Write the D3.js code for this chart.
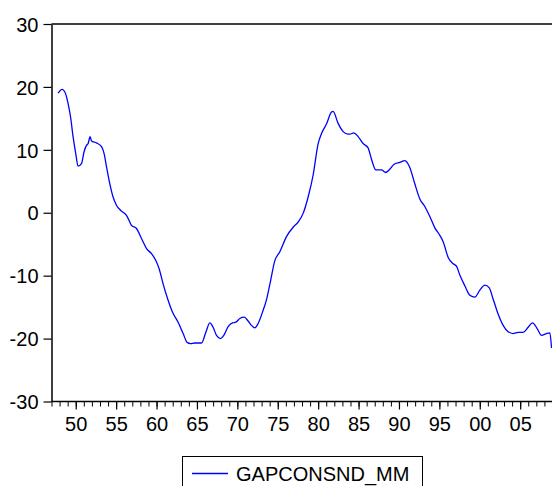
<!DOCTYPE html>
<html>
<head>
<meta charset="utf-8">
<script src="https://cdn.jsdelivr.net/npm/d3@7"></script>
<style>
  body { margin: 0; background: #fff; }
  svg { display: block; }
  text { font-family: "Liberation Sans", Arial, sans-serif; }
</style>
</head>
<body>
<script>
// data (decimal year, gap value)
var years = [1947.82, 1948.31, 1948.65, 1949.05, 1949.35, 1949.67, 1950.0, 1950.29, 1950.71, 1951.03,
  1951.33, 1951.53, 1951.78, 1951.95, 1952.57, 1953.19, 1953.51, 1953.81, 1954.22, 1954.62,
  1955.04, 1955.54, 1956.28, 1956.90, 1957.52, 1958.14, 1958.76, 1959.38, 1959.91, 1960.32,
  1960.81, 1961.43, 1961.98, 1962.67, 1963.29, 1963.78, 1964.20, 1964.73, 1965.56, 1966.10,
  1966.59, 1967.0, 1967.42, 1967.92, 1968.32, 1968.86, 1969.40, 1969.81, 1970.31, 1970.84,
  1971.33, 1971.75, 1972.16, 1972.57, 1973.11, 1973.61, 1974.02, 1974.64, 1975.26, 1976.08,
  1976.90, 1977.52, 1978.14, 1978.76, 1979.38, 1980.0, 1980.42, 1981.03, 1981.65, 1981.85,
  1982.47, 1983.09, 1983.71, 1983.92, 1984.41, 1984.95, 1985.56, 1986.18, 1986.60, 1987.14,
  1987.84, 1988.37, 1988.78, 1989.40, 1990.11, 1990.73, 1991.34, 1991.96, 1992.58, 1993.20,
  1993.82, 1994.44, 1995.06, 1995.47, 1996.09, 1996.71, 1997.12, 1997.53, 1998.15, 1998.77,
  1999.39, 2000.01, 2000.63, 2001.16, 2001.65, 2002.27, 2002.89, 2003.51, 2004.13, 2004.75,
  2005.37, 2005.99, 2006.53, 2007.10, 2007.64, 2008.26, 2008.67, 2008.88];

var gapValues = [19.0, 19.6, 19.2, 17.4, 15.3, 12.1, 9.4, 7.4, 7.8, 9.7,
  10.7, 11.0, 12.1, 11.4, 11.1, 10.5, 9.4, 7.3, 4.6, 2.5,
  1.2, 0.4, -0.4, -2.0, -2.5, -4.1, -5.7, -6.5, -7.6, -8.9,
  -11.3, -13.9, -15.8, -17.4, -19.2, -20.6, -20.8, -20.7, -20.7, -19.0,
  -17.5, -18.2, -19.5, -20.0, -19.5, -18.1, -17.5, -17.4, -16.8, -16.6,
  -17.2, -17.9, -18.3, -17.6, -15.8, -13.8, -11.4, -7.6, -6.2, -3.8,
  -2.3, -1.5, -0.1, 2.5, 6.0, 11.0, 12.6, 14.1, 16.0, 16.1,
  14.2, 12.9, 12.5, 12.5, 12.7, 12.1, 11.0, 10.3, 8.5, 6.8,
  6.8, 6.4, 6.8, 7.7, 8.0, 8.3, 7.2, 4.6, 2.2, 1.0,
  -0.6, -2.4, -3.6, -4.6, -7.1, -8.1, -8.5, -9.9, -11.6, -13.1,
  -13.4, -12.3, -11.5, -11.9, -13.7, -16.1, -17.9, -18.9, -19.2, -19.0,
  -19.0, -18.2, -17.5, -18.4, -19.5, -19.2, -19.1, -21.5];

var yTicks = [-30, -20, -10, 0, 10, 20, 30];
var majorYears = [1950, 1955, 1960, 1965, 1970, 1975, 1980, 1985, 1990, 1995, 2000, 2005];
var seriesName = "GAPCONSND_MM";

var svgWidth = 552;
var svgHeight = 486;

// plot box (the right side runs just past the picture)
var plot = { left: 51.5, top: 24, right: 552.5, bottom: 401.5 };

var svg = d3.select("body")
  .append("svg")
  .attr("width", svgWidth)
  .attr("height", svgHeight);

var xScale = d3.scaleLinear()
  .domain([1947, 2009])
  .range([plot.left, plot.right]);

var yScale = d3.scaleLinear()
  .domain([-30, 30])
  .range([plot.bottom, plot.top]);

// frame top line
svg.append("line")
  .attr("x1", plot.left).attr("x2", svgWidth)
  .attr("y1", plot.top).attr("y2", plot.top)
  .attr("stroke", "#000").attr("stroke-width", 1.5);

// y axis (plain hyphen for negatives, like the original)
var yAxis = svg.append("g")
  .attr("transform", `translate(${plot.left},0)`)
  .call(d3.axisLeft(yScale).tickValues(yTicks).tickSize(8).tickPadding(5).tickSizeOuter(0)
    .tickFormat(d => String(d)));

yAxis.select(".domain").attr("stroke-width", 1.5);
yAxis.selectAll(".tick line").attr("stroke-width", 1.2);
yAxis.selectAll("text")
  .attr("font-size", "20px")
  .attr("font-family", "Liberation Sans, Arial, sans-serif")
  .attr("fill", "#000")
  .attr("dy", "0.36em");

// minor x ticks every year
var minorYears = d3.range(1947, 2010);
var xMinor = svg.append("g")
  .attr("transform", `translate(0,${plot.bottom})`)
  .call(d3.axisBottom(xScale).tickValues(minorYears).tickSize(5).tickFormat("").tickSizeOuter(0));
xMinor.select(".domain").remove();
xMinor.selectAll(".tick line").attr("stroke-width", 1);

// major x ticks with labels
var xAxis = svg.append("g")
  .attr("transform", `translate(0,${plot.bottom})`)
  .call(d3.axisBottom(xScale).tickValues(majorYears).tickSize(8).tickPadding(7)
    .tickSizeOuter(0)
    .tickFormat(d => String(d % 100).padStart(2, "0")));

xAxis.select(".domain").attr("stroke-width", 1.5).attr("d", `M${plot.left},0H${svgWidth}`);
xAxis.selectAll(".tick line").attr("stroke-width", 1.2);
xAxis.selectAll("text")
  .attr("font-size", "20px")
  .attr("font-family", "Liberation Sans, Arial, sans-serif")
  .attr("fill", "#000");

// the series line
var series = years.map((y, i) => ({ year: y, value: gapValues[i] }));

var line = d3.line()
  .x(d => xScale(d.year))
  .y(d => yScale(d.value))
  .curve(d3.curveMonotoneX);

svg.append("path")
  .datum(series)
  .attr("d", line)
  .attr("fill", "none")
  .attr("stroke", "#0000ff")
  .attr("stroke-width", 1.3);

// legend
var legend = svg.append("g");
legend.append("rect")
  .attr("x", 182.5).attr("y", 456.5)
  .attr("width", 240).attr("height", 40)
  .attr("fill", "#fff")
  .attr("stroke", "#000").attr("stroke-width", 1);
legend.append("line")
  .attr("x1", 192).attr("x2", 228)
  .attr("y1", 473.5).attr("y2", 473.5)
  .attr("stroke", "#0000ff").attr("stroke-width", 1.3);
legend.append("text")
  .attr("x", 236)
  .attr("y", 481)
  .attr("font-size", "20px")
  .attr("fill", "#000")
  .text(seriesName);
</script>
</body>
</html>
